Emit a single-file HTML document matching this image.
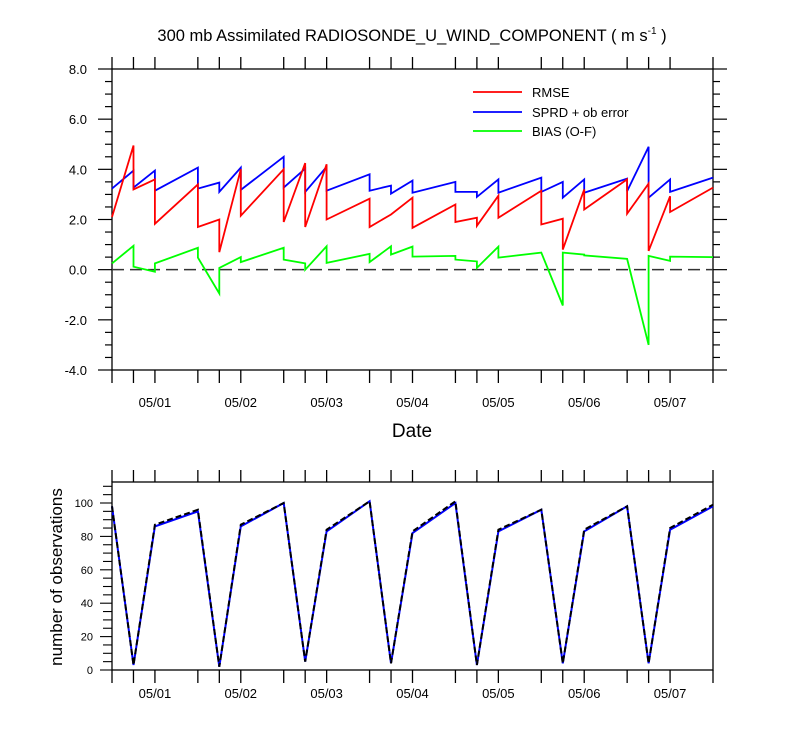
<!DOCTYPE html>
<html><head><meta charset="utf-8">
<style>
body{margin:0;background:#fff;}
svg{display:block;font-family:"Liberation Sans",sans-serif;}
</style></head>
<body>
<svg id="chart" width="800" height="750" viewBox="0 0 800 750" xmlns="http://www.w3.org/2000/svg">
<rect width="800" height="750" fill="#fff"/>
<text x="412" y="41" text-anchor="middle" font-size="16.5">300 mb Assimilated RADIOSONDE_U_WIND_COMPONENT ( m s<tspan font-size="10" dy="-7">-1</tspan><tspan dy="7"> )</tspan></text>
<g id="topPlot"></g>
<g id="botPlot"></g>
<text x="412" y="437" text-anchor="middle" font-size="19">Date</text>
<text transform="translate(62,577) rotate(-90)" text-anchor="middle" font-size="17">number of observations</text>
<g>
<line x1="473" y1="92" x2="522" y2="92" stroke="#f00" stroke-width="1.8"/>
<text x="532" y="97" font-size="13">RMSE</text>
<line x1="473" y1="112" x2="522" y2="112" stroke="#00f" stroke-width="1.8"/>
<text x="532" y="117" font-size="13">SPRD + ob error</text>
<line x1="473" y1="131" x2="522" y2="131" stroke="#0f0" stroke-width="1.8"/>
<text x="532" y="136" font-size="13">BIAS (O-F)</text>
</g>
</svg>
<script>
// times (hours since 04/30 12Z) of analysis points
const times = [0,6,12,24,30,36,48,54,60,72,78,84,96,102,108,120,126,132,144,150,156,168];
const dateLabels = ["05/01","05/02","05/03","05/04","05/05","05/06","05/07"];
const dateHours = [12,36,60,84,108,132,156];
// per-interval start/end values (interval i goes from times[i] to times[i+1])
const rmseStart = [2.1,3.2,1.83,1.7,0.7,2.15,1.9,1.7,2.0,1.7,2.2,1.67,1.9,1.75,2.07,1.8,0.8,2.4,2.23,0.75,2.3];
const rmseEnd   = [4.95,3.6,3.4,2.0,4.0,4.0,4.25,4.2,2.83,2.2,2.87,2.6,2.07,2.95,3.15,2.03,3.2,3.6,3.43,2.93,3.27];
const sprdStart = [3.23,3.27,3.15,3.23,3.1,3.18,3.27,3.1,3.15,3.15,3.03,3.07,3.1,2.9,3.07,3.1,2.87,3.07,3.13,2.87,3.1];
const sprdEnd   = [3.95,3.95,4.07,3.47,4.07,4.5,4.03,4.1,3.8,3.35,3.55,3.5,3.1,3.6,3.67,3.5,3.6,3.63,4.9,3.6,3.67];
const biasStart = [0.25,0.12,0.25,0.48,0.07,0.3,0.4,0.0,0.27,0.3,0.6,0.52,0.4,0.07,0.48,0.68,0.68,0.57,0.43,0.55,0.52];
const biasEnd   = [0.95,-0.08,0.87,-0.95,0.5,0.87,0.25,0.93,0.63,0.93,0.92,0.55,0.33,0.92,0.68,-1.43,0.6,0.43,-3.0,0.35,0.5];
const topTicks = [-4,-2,0,2,4,6,8];
// observation counts
const obsUsed = [98,3,86,95,2,86,100,5,83,101,4,82,100,3,83,96,4,83,98,4,84,98];
const obsTotal = [98,3,87,96,2,87,100,5,84,101,4,83,101,3,84,96,4,84,98,4,85,99];
const botTicks = [0,20,40,60,80,100];

const NS="http://www.w3.org/2000/svg";
const X0=112,X1=713;
const xs=h=>X0+(X1-X0)*h/168;
const T0=69,T1=370; const ty=v=>T1-(v+4)/12*(T1-T0);
const B0=482,B1=670; const by=v=>B1-v*1.67;
function mk(tag,attrs,parent){const e=document.createElementNS(NS,tag);for(const k in attrs)e.setAttribute(k,attrs[k]);parent.appendChild(e);return e;}
const topG=document.getElementById('topPlot'), botG=document.getElementById('botPlot');

function frame(g,yTop,yBot,name){
  const r=mk('rect',{x:X0,y:yTop,width:X1-X0,height:yBot-yTop,fill:'none',stroke:'#000','stroke-width':1.3},g);
  
  
  times.forEach(h=>{
    const x=xs(h);
    const t1=mk('line',{x1:x,y1:yTop,x2:x,y2:yTop-12,stroke:'#000','stroke-width':1.3},g);
    
    
    const t2=mk('line',{x1:x,y1:yBot,x2:x,y2:yBot+13,stroke:'#000','stroke-width':1.3},g);
    
    
  });
}
function xlabels(g,y,fs){
  dateLabels.forEach((d,i)=>{
    const t=mk('text',{x:xs(dateHours[i]),y:y,'text-anchor':'middle','font-size':fs},g);
    t.textContent=d;
    
    
  });
}
// top plot
frame(topG,T0,T1,'error-plot');
for(let v=-4;v<=8.001;v+=0.5){
  const maj=Math.abs(v-Math.round(v/2)*2)<1e-6;
  const y=ty(v);
  const l=mk('line',{x1:X0,y1:y,x2:X0-(maj?14:7),y2:y,stroke:'#000','stroke-width':1.2},topG);
  
  
  const r=mk('line',{x1:X1,y1:y,x2:X1+(maj?14:7),y2:y,stroke:'#000','stroke-width':1.2},topG);
  
  
}
topTicks.forEach(v=>{
  const t=mk('text',{x:87,y:ty(v)+5,'text-anchor':'end','font-size':13},topG);
  t.textContent=v.toFixed(1);
  
  
});
xlabels(topG,407,13);
const zl=mk('line',{x1:X0,y1:ty(0),x2:X1,y2:ty(0),stroke:'#333','stroke-width':1.5,'stroke-dasharray':'12,6'},topG);


function series(s,e,color,name){
  let d='';
  for(let i=0;i<s.length;i++){
    d+=(i===0?'M':'L')+xs(times[i]).toFixed(1)+','+ty(s[i]).toFixed(1)+' L'+xs(times[i+1]).toFixed(1)+','+ty(e[i]).toFixed(1)+' ';
  }
  const p=mk('path',{d:d,fill:'none',stroke:color,'stroke-width':1.8,'stroke-linejoin':'miter'},topG);
  
  
}
series(biasStart,biasEnd,'#0f0','bias-line');
series(sprdStart,sprdEnd,'#00f','sprd-line');
series(rmseStart,rmseEnd,'#f00','rmse-line');

// bottom plot
frame(botG,B0,B1,'observations-plot');
for(let v=0;v<=112;v+=5){
  const maj=v%20===0;
  const y=by(v);
  const l=mk('line',{x1:X0,y1:y,x2:X0-(maj?12:9),y2:y,stroke:'#000','stroke-width':1.1},botG);
  
  
}
botTicks.forEach(v=>{
  const t=mk('text',{x:93,y:by(v)+4,'text-anchor':'end','font-size':11},botG);
  t.textContent=v;
  
  
});
xlabels(botG,698,13);
function obsLine(arr,color,dash,name,w){
  const d=arr.map((v,i)=>(i?'L':'M')+xs(times[i]).toFixed(1)+','+by(v).toFixed(1)).join(' ');
  const p=mk('path',{d:d,fill:'none',stroke:color,'stroke-width':w,'stroke-dasharray':dash},botG);
  
  
}
obsLine(obsUsed,'#00f','none','obs-used-line',2);
obsLine(obsTotal,'#000','6,3','obs-total-line',2);
</script>
</body></html>
